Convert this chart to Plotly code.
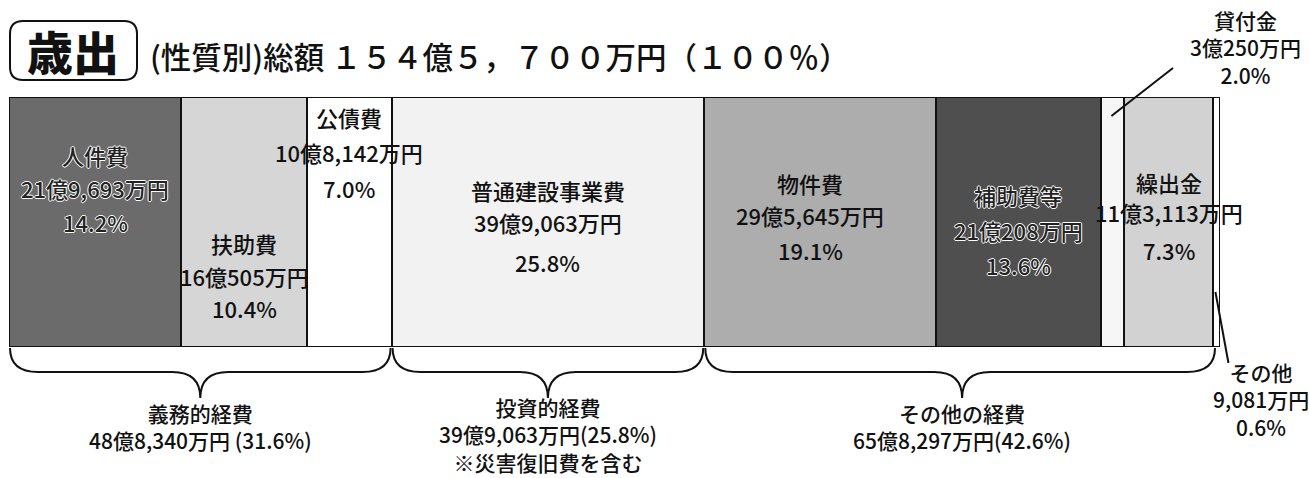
import plotly.graph_objects as go

W, H = 1309, 478

categories = ["人件費", "扶助費", "公債費", "普通建設事業費", "物件費", "補助費等", "貸付金", "繰出金", "その他"]
values_man = [219693, 160505, 108142, 399063, 295645, 210208, 30250, 113113, 9081]  # 万円
amount_labels = ["21億9,693万円", "16億505万円", "10億8,142万円", "39億9,063万円", "29億5,645万円",
                 "21億208万円", "3億250万円", "11億3,113万円", "9,081万円"]
pct_labels = ["14.2%", "10.4%", "7.0%", "25.8%", "19.1%", "13.6%", "2.0%", "7.3%", "0.6%"]
colors = ["#6b6b6b", "#d6d6d6", "#ffffff", "#f2f2f2", "#adadad", "#4f4f4f", "#f6f6f6", "#d2d2d2", "#ffffff"]

groups = ["義務的経費", "投資的経費", "その他の経費"]
group_members = [[0, 1, 2], [3], [4, 5, 6, 7, 8]]
group_amounts = ["48億8,340万円 (31.6%)", "39億9,063万円(25.8%)", "65億8,297万円(42.6%)"]
group_notes = ["", "※災害復旧費を含む", ""]

title_box = "歳出"
title_text = "(性質別)総額 １５４億５，７００万円（１００％）"

total = sum(values_man)
cum = [0]
for v in values_man:
    cum.append(cum[-1] + v)

# layout geometry (pixels)
X0, X1 = 9, 1220
Y_TOP, Y_BOT = 97, 347
dom_x = [X0 / W, X1 / W]
dom_y = [1 - Y_BOT / H, 1 - Y_TOP / H]


def px_x(v):  # data value -> pixel x
    return X0 + v / total * (X1 - X0)


def pxx(p):  # pixel -> paper x
    return p / W


def pxy(p):  # pixel -> paper y
    return 1 - p / H


fig = go.Figure()
for i, c in enumerate(categories):
    fig.add_trace(go.Bar(
        y=[0], x=[values_man[i]], orientation="h", name=c,
        marker=dict(color=colors[i], line=dict(color="#111111", width=2)),
        width=1, hoverinfo="skip", showlegend=False,
    ))

font_family = "Noto Sans CJK JP"
halo = "1px 0 0 #fff, -1px 0 0 #fff, 0 1px 0 #fff, 0 -1px 0 #fff"
annotations = []

# in-bar labels: rows of y pixel positions for (name, amount, pct)
label_rows = {
    0: (155, 188, 222),
    1: (243, 276, 308),
    2: (117, 152, 188),
    3: (190, 222, 262),
    4: (183, 215, 250),
    5: (195, 230, 265),
    7: (182, 212, 250),
}
for i, rows in label_rows.items():
    xc = (cum[i] + cum[i + 1]) / 2
    if i == 4:
        xc -= 0.008 * total
    dark = colors[i] in ("#6b6b6b", "#4f4f4f")
    col = "#222222" if dark else "#111111"
    for txt, yy in zip([categories[i], amount_labels[i], pct_labels[i]], rows):
        annotations.append(dict(
            x=xc, y=pxy(yy), xref="x", yref="paper", text=txt, showarrow=False,
            xanchor="center", yanchor="middle",
            font=dict(family=font_family, size=22, weight=500, color=col,
                      shadow=halo if dark else "none"),
        ))

# outside labels: 貸付金 and その他 (one multi-line text each)
outside = {6: (1245, 47), 8: (1261, 399)}
for i, (xcp, yc) in outside.items():
    annotations.append(dict(
        x=pxx(xcp), y=pxy(yc), xref="paper", yref="paper",
        text="<br>".join([categories[i], amount_labels[i], pct_labels[i]]), showarrow=False,
        xanchor="center", yanchor="middle", align="center",
        font=dict(family=font_family, size=21, weight=500, color="#111111"),
    ))

shapes = []
# leader lines
i = 6
xs = px_x((cum[i] + cum[i + 1]) / 2) - 1
shapes.append(dict(type="line", xref="paper", yref="paper",
                   x0=pxx(xs), y0=pxy(116), x1=pxx(1173), y1=pxy(68),
                   line=dict(color="#111111", width=2)))
i = 8
xs = px_x((cum[i] + cum[i + 1]) / 2)
shapes.append(dict(type="line", xref="paper", yref="paper",
                   x0=pxx(xs - 1), y0=pxy(292), x1=pxx(xs + 12), y1=pxy(363),
                   line=dict(color="#111111", width=2)))

# braces
def brace(xa, xb, xm, ytop, yh, ytip, d=28):
    P = lambda x, y: f"{pxx(x):.5f},{pxy(y):.5f}"
    return (f"M {P(xa, ytop)} Q {P(xa, yh)} {P(xa + d, yh)} L {P(xm - d, yh)} "
            f"Q {P(xm, yh)} {P(xm, ytip)} Q {P(xm, yh)} {P(xm + d, yh)} "
            f"L {P(xb - d, yh)} Q {P(xb, yh)} {P(xb, ytop)}")


group_label_y = [426, 434, 426]
for g, members in enumerate(group_members):
    a = px_x(cum[members[0]]) + 1
    b = px_x(cum[members[-1] + 1]) - 1
    if g == 2:
        b -= 4
    m = (px_x(cum[members[0]]) + px_x(cum[members[-1] + 1])) / 2
    shapes.append(dict(type="path", xref="paper", yref="paper",
                       path=brace(a, b, m, Y_BOT + 1, 372, 398),
                       line=dict(color="#111111", width=2)))
    texts = [t for t in [groups[g], group_amounts[g], group_notes[g]] if t]
    annotations.append(dict(
        x=pxx(m), y=pxy(group_label_y[g]), xref="paper", yref="paper", text="<br>".join(texts),
        showarrow=False, xanchor="center", yanchor="middle", align="center",
        font=dict(family=font_family, size=21, weight=500, color="#111111"),
    ))

# title box (rounded rectangle)
bx0, by0, bx1, by1, r = 10, 21, 137, 80, 13
P = lambda x, y: f"{pxx(x):.5f},{pxy(y):.5f}"
box_path = (f"M {P(bx0 + r, by0)} L {P(bx1 - r, by0)} Q {P(bx1, by0)} {P(bx1, by0 + r)} "
            f"L {P(bx1, by1 - r)} Q {P(bx1, by1)} {P(bx1 - r, by1)} L {P(bx0 + r, by1)} "
            f"Q {P(bx0, by1)} {P(bx0, by1 - r)} L {P(bx0, by0 + r)} Q {P(bx0, by0)} {P(bx0 + r, by0)} Z")
shapes.append(dict(type="path", xref="paper", yref="paper", path=box_path,
                   line=dict(color="#111111", width=2)))
annotations.append(dict(x=pxx(73), y=pxy(50), xref="paper", yref="paper", text=title_box,
                        showarrow=False, xanchor="center", yanchor="middle",
                        font=dict(family=font_family, size=46, weight=900, color="#111111")))
annotations.append(dict(x=pxx(148), y=pxy(56), xref="paper", yref="paper", text=title_text,
                        showarrow=False, xanchor="left", yanchor="middle",
                        font=dict(family=font_family, size=30.5, weight=500, color="#111111")))

fig.update_layout(
    width=W, height=H, margin=dict(l=0, r=0, t=0, b=0),
    paper_bgcolor="white", plot_bgcolor="white",
    barmode="stack", bargap=0,
    xaxis=dict(domain=dom_x, range=[0, total], visible=False, fixedrange=True),
    yaxis=dict(domain=dom_y, range=[-0.5, 0.5], visible=False, fixedrange=True),
    annotations=annotations, shapes=shapes, showlegend=False,
)

fig.write_html("out.html", config={"displayModeBar": False},
               post_script="document.body.style.margin='0';document.body.style.overflow='hidden';")
